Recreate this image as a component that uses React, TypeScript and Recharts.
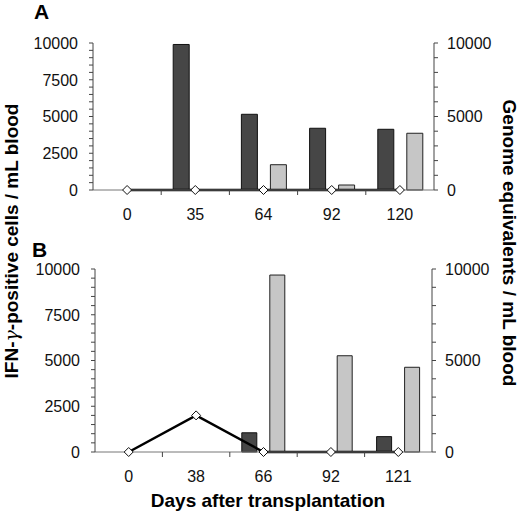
import React from 'react';
import { ComposedChart, Bar, Line, XAxis, YAxis } from 'recharts';

const categoriesA = ['0', '35', '64', '92', '120'];
const ifnA = [0, 9900, 5150, 4200, 4130];
const genomeA = [0, 0, 1720, 340, 3860];
const lineA = [0, 0, 0, 0, 0];

const categoriesB = ['0', '38', '66', '92', '121'];
const ifnB = [0, 0, 1050, 0, 840];
const genomeB = [0, 0, 9670, 5260, 4630];
const lineB = [0, 2000, 0, 0, 0];

const leftTicks = [0, 500, 1000, 1500, 2000, 2500, 3000, 3500, 4000, 4500, 5000, 5500, 6000, 6500, 7000, 7500, 8000, 8500, 9000, 9500, 10000];
const leftLabelStep = 2500;
const rightTicks = [0, 1000, 2000, 3000, 4000, 5000, 6000, 7000, 8000, 9000, 10000];
const rightLabelStep = 5000;

const FONT = '"Liberation Sans", Arial, Helvetica, sans-serif';
const AXIS = '#444';
const DARK = '#464646';
const LIGHT = '#c6c6c6';

function build(cats: string[], ifn: number[], gen: number[], ln: number[]) {
  return cats.map((c, i) => ({ day: c, ifn: ifn[i], genome: gen[i], line: ln[i] }));
}

const LeftTick = (props: any) => {
  const { x, y, payload } = props;
  if (payload.value % leftLabelStep !== 0) return <g />;
  return (
    <text x={x} y={y} dy="0.36em" textAnchor="end" fontSize={16} fontFamily={FONT} fill="#111">
      {payload.value}
    </text>
  );
};

const RightTick = (props: any) => {
  const { x, y, payload } = props;
  if (payload.value % rightLabelStep !== 0) return <g />;
  return (
    <text x={x} y={y} dy="0.36em" textAnchor="start" fontSize={16} fontFamily={FONT} fill="#111">
      {payload.value}
    </text>
  );
};

const makeXTick = (band: number) => (props: any) => {
  const { x, y, payload, index } = props;
  return (
    <g>
      <text x={x} y={y + 30} textAnchor="middle" fontSize={16} fontFamily={FONT} fill="#111">
        {payload.value}
      </text>
      {index > 0 ? (
        <line x1={x - band / 2} x2={x - band / 2} y1={y} y2={y + 5} stroke={AXIS} strokeWidth={1} />
      ) : null}
    </g>
  );
};

const Diamond = (props: any) => {
  const { cx, cy } = props;
  if (cx == null || cy == null) return <g />;
  const r = 4.5;
  return (
    <polygon
      points={`${cx},${cy - r} ${cx + r},${cy} ${cx},${cy + r} ${cx - r},${cy}`}
      fill="#fff"
      stroke="#111"
      strokeWidth={1}
    />
  );
};

function Panel(props: {
  data: any[];
  height: number;
  top: number;
  leftW: number;
  rightW: number;
}) {
  const { data, height, top, leftW, rightW } = props;
  const band = (520 - leftW - rightW) / data.length;
  return (
    <ComposedChart
      width={520}
      height={height}
      data={data}
      margin={{ top, right: 0, bottom: 0, left: 0 }}
      barCategoryGap={12}
      barGap={13}
    >
      <XAxis
        dataKey="day"
        height={40}
        tickLine={false}
        tickSize={0}
        tickMargin={0}
        axisLine={{ stroke: '#777', strokeWidth: 1 }}
        tick={makeXTick(band)}
        interval={0}
      />
      <YAxis
        yAxisId="left"
        orientation="left"
        width={leftW}
        domain={[0, 10000]}
        ticks={leftTicks}
        interval={0}
        tickSize={4}
        tickMargin={11}
        tickLine={{ stroke: AXIS }}
        axisLine={{ stroke: AXIS }}
        tick={<LeftTick />}
      />
      <YAxis
        yAxisId="right"
        orientation="right"
        width={rightW}
        domain={[0, 10000]}
        ticks={rightTicks}
        interval={0}
        tickSize={4}
        tickMargin={9}
        tickLine={{ stroke: AXIS }}
        axisLine={{ stroke: AXIS }}
        tick={<RightTick />}
      />
      <Bar yAxisId="left" dataKey="ifn" fill={DARK} stroke="#111" strokeWidth={1} isAnimationActive={false} />
      <Bar yAxisId="right" dataKey="genome" fill={LIGHT} stroke="#222" strokeWidth={1} isAnimationActive={false} />
      <Line
        yAxisId="left"
        dataKey="line"
        stroke="#000"
        strokeWidth={2.5}
        dot={<Diamond />}
        activeDot={false}
        isAnimationActive={false}
      />
    </ComposedChart>
  );
}

export default function App() {
  const dataA = build(categoriesA, ifnA, genomeA, lineA);
  const dataB = build(categoriesB, ifnB, genomeB, lineB);
  return (
    <div style={{ position: 'absolute', left: 0, top: 0, width: 520, height: 521, background: '#fff', fontFamily: FONT }}>
      <div style={{ position: 'absolute', left: 0, top: 0 }}>
        <Panel data={dataA} height={230} top={43} leftW={93} rightW={86} />
      </div>
      <div style={{ position: 'absolute', left: 0, top: 230 }}>
        <Panel data={dataB} height={262} top={39} leftW={95} rightW={88} />
      </div>
      <svg
        width={520}
        height={521}
        style={{ position: 'absolute', left: 0, top: 0, pointerEvents: 'none' }}
      >
        <text x={34} y={19} fontSize={21} fontWeight="bold" fontFamily={FONT} fill="#000">A</text>
        <text x={32} y={257} fontSize={21} fontWeight="bold" fontFamily={FONT} fill="#000">B</text>
        <text
          transform="translate(18,241) rotate(-90)"
          textAnchor="middle"
          fontSize={19}
          fontWeight="bold"
          fontFamily={FONT}
          fill="#000"
        >
          IFN-
          <tspan fontWeight="normal" fontStyle="italic" fontFamily='"DejaVu Serif", serif'>γ</tspan>
          -positive cells / mL blood
        </text>
        <text
          transform="translate(503,243) rotate(90)"
          textAnchor="middle"
          fontSize={19}
          fontWeight="bold"
          fontFamily={FONT}
          fill="#000"
        >
          Genome equivalents / mL blood
        </text>
        <text x={268} y={507} textAnchor="middle" fontSize={19} fontWeight="bold" fontFamily={FONT} fill="#000">
          Days after transplantation
        </text>
      </svg>
    </div>
  );
}
